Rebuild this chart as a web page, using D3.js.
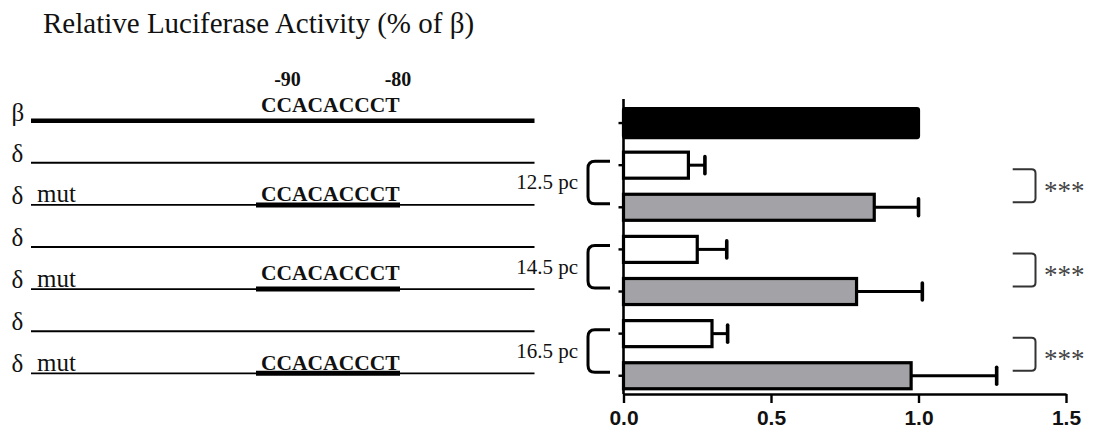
<!DOCTYPE html>
<html>
<head>
<meta charset="utf-8">
<script src="https://cdn.jsdelivr.net/npm/d3@7"></script>
<style>
  html, body { margin: 0; padding: 0; background: #fff; }
  svg { display: block; }
  .serif { font-family: "Liberation Serif", "Times New Roman", serif; }
  .sans { font-family: "Liberation Sans", Arial, sans-serif; }
</style>
</head>
<body>
<svg id="chart" width="1094" height="432"></svg>
<script>
// ---------------- data ----------------
const title = "Relative Luciferase Activity (% of β)";
const categories = ["β", "δ 12.5", "δ mut 12.5", "δ 14.5", "δ mut 14.5", "δ 16.5", "δ mut 16.5"];
const constructTypes = ["beta", "delta", "mut", "delta", "mut", "delta", "mut"];
const rowGreek = ["β", "δ", "δ", "δ", "δ", "δ", "δ"];
const rowSuffix = ["", "", "mut", "", "mut", "", "mut"];
const values = [1.0, 0.22, 0.85, 0.25, 0.79, 0.30, 0.975];
const errors = [0, 0.056, 0.15, 0.10, 0.223, 0.053, 0.29];
const stageLabels = ["12.5 pc", "14.5 pc", "16.5 pc"];
const stageRows = [[1, 2], [3, 4], [5, 6]];
const significance = ["***", "***", "***"];
const xTicks = [0, 0.5, 1.0, 1.5];
const motif = "CCACACCCT";
const positionLabels = ["-90", "-80"];

// ---------------- styles / layout ----------------
const fillFor = { beta: "#000", delta: "#fff", mut: "#a3a3a7" };
const svg = d3.select("#chart");

const x = d3.scaleLinear().domain([0, 1.5]).range([623.5, 1066]);
const y = d3.scaleBand().domain(categories).range([102, 396.8])
  .paddingInner(0.382).paddingOuter(0.191);
const yc = c => y(c) + y.bandwidth() / 2;
const xAxisY = 394;

// title
svg.append("text").attr("class", "serif")
  .attr("x", 43).attr("y", 33)
  .attr("font-size", 29).attr("fill", "#111")
  .text(title);

// ---------------- left diagram ----------------
const lineX0 = 31, lineX1 = 534.5;
const motifX0 = 256, motifX1 = 400;
const lineWidth = { beta: 4.5, delta: 2.2, mut: 1.6 };
const rows = svg.append("g");
categories.forEach((c, i) => {
  const t = constructTypes[i];
  const ly = yc(c) - 2.4;
  rows.append("line").attr("x1", lineX0).attr("x2", lineX1)
    .attr("y1", ly).attr("y2", ly)
    .attr("stroke", "#000").attr("stroke-width", lineWidth[t]);
  rows.append("text").attr("class", "serif")
    .attr("x", 11.5).attr("y", ly - (t === "beta" ? 0 : 1))
    .attr("font-size", 25).attr("fill", "#111")
    .text(rowGreek[i]);
  if (rowSuffix[i]) {
    rows.append("text").attr("class", "serif")
      .attr("x", 37).attr("y", ly - 2.5)
      .attr("font-size", 25).attr("fill", "#111")
      .text(rowSuffix[i]);
  }
  if (t === "mut") {
    rows.append("line").attr("x1", motifX0).attr("x2", motifX1)
      .attr("y1", ly).attr("y2", ly)
      .attr("stroke", "#000").attr("stroke-width", 5);
  }
  if (t === "mut" || t === "beta") {
    const gap = t === "beta" ? 9 : (i === 2 ? 4 : (i === 4 ? 9 : 3));
    rows.append("text").attr("class", "serif")
      .attr("x", motifX0 + 5).attr("y", ly - gap)
      .attr("font-size", 21.5).attr("font-weight", "bold").attr("fill", "#111")
      .text(motif);
  }
});
// position labels
[287.5, 398].forEach((px, i) => {
  rows.append("text").attr("class", "serif")
    .attr("x", px).attr("y", 86).attr("text-anchor", "middle")
    .attr("font-size", 20).attr("font-weight", "bold").attr("fill", "#111")
    .text(positionLabels[i]);
});

// ---------------- bar chart ----------------
const bars = svg.append("g");
bars.selectAll("rect").data(categories).join("rect")
  .attr("x", x(0))
  .attr("y", (c, i) => y(c) - (constructTypes[i] === "beta" ? 1.5 : 0))
  .attr("width", (c, i) => x(values[i]) - x(0))
  .attr("height", (c, i) => y.bandwidth() + (constructTypes[i] === "beta" ? 3 : 0))
  .attr("rx", (c, i) => constructTypes[i] === "beta" ? 1.5 : 0)
  .attr("fill", (c, i) => fillFor[constructTypes[i]])
  .attr("stroke", "#000").attr("stroke-width", 3.2);

// error bars
const eb = svg.append("g").attr("stroke", "#000");
categories.forEach((c, i) => {
  if (!errors[i]) return;
  const x1 = x(values[i]), x2 = x(values[i] + errors[i]);
  eb.append("line").attr("x1", x1).attr("x2", x2)
    .attr("y1", yc(c)).attr("y2", yc(c)).attr("stroke-width", 3);
  eb.append("line").attr("x1", x2).attr("x2", x2)
    .attr("y1", yc(c) - 8.5).attr("y2", yc(c) + 8.5)
    .attr("stroke-width", 3.6).attr("stroke-linecap", "round");
});

// y axis
const yAxisG = svg.append("g").attr("transform", `translate(${x(0)},0)`)
  .call(d3.axisLeft(y).tickSize(5).tickSizeOuter(0).tickFormat(""));
yAxisG.select(".domain").attr("d", `M0,99V${xAxisY}`)
  .attr("stroke", "#000").attr("stroke-width", 2.6);
yAxisG.selectAll(".tick line").attr("stroke", "#000").attr("stroke-width", 2.4);

// x axis
const xAxisG = svg.append("g").attr("transform", `translate(0,${xAxisY})`)
  .call(d3.axisBottom(x).tickValues(xTicks).tickFormat(d3.format(".1f"))
    .tickSize(9).tickSizeOuter(0).tickPadding(7));
xAxisG.select(".domain").attr("stroke", "#000").attr("stroke-width", 2.6);
xAxisG.selectAll(".tick line").attr("stroke", "#000").attr("stroke-width", 2.4);
xAxisG.selectAll(".tick text").attr("class", "sans")
  .attr("font-size", 21).attr("font-weight", "bold").attr("fill", "#111");

// stage brackets (left) and labels
const ann = svg.append("g");
stageRows.forEach((pair, k) => {
  const top = yc(categories[pair[0]]) - 4;
  const bot = yc(categories[pair[1]]) - 3.5;
  const xl = 588, xr = 610, r = 7;
  ann.append("path")
    .attr("d", `M${xr},${top}H${xl + r}Q${xl},${top} ${xl},${top + r}V${bot - r}Q${xl},${bot} ${xl + r},${bot}H${xr}`)
    .attr("fill", "none").attr("stroke", "#000").attr("stroke-width", 3);
  ann.append("text").attr("class", "serif")
    .attr("x", 578).attr("y", (top + bot) / 2 + 7)
    .attr("text-anchor", "end").attr("font-size", 21).attr("fill", "#111")
    .text(stageLabels[k]);

  // significance brackets (right)
  const rt = yc(categories[pair[0]]) + 4;
  const rb = yc(categories[pair[1]]) - 5;
  const bl = 1012.7, br = 1035.5, rr = 4;
  ann.append("path")
    .attr("d", `M${bl},${rt}H${br - rr}Q${br},${rt} ${br},${rt + rr}V${rb - rr}Q${br},${rb} ${br - rr},${rb}H${bl}`)
    .attr("fill", "none").attr("stroke", "#333").attr("stroke-width", 2);
  ann.append("text").attr("class", "serif")
    .attr("x", 1044).attr("y", (rt + rb) / 2 + 14)
    .attr("font-size", 27).attr("fill", "#444")
    .text(significance[k]);
});
</script>
</body>
</html>
